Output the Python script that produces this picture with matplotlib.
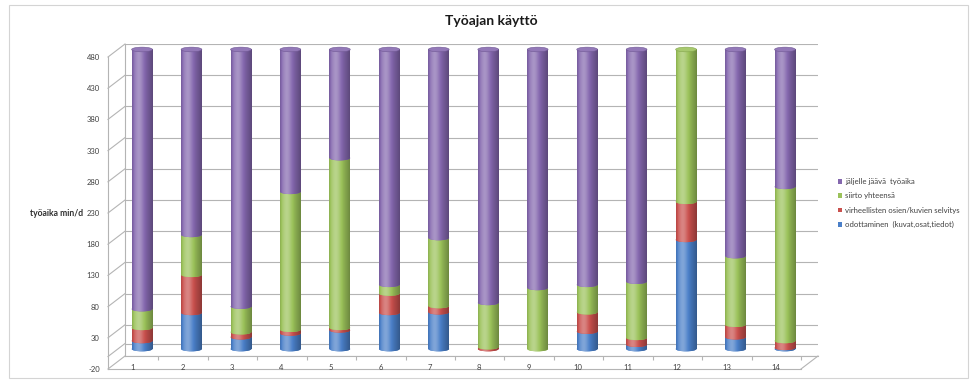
import numpy as np
import matplotlib
matplotlib.use("Agg")
import matplotlib.pyplot as plt
from matplotlib.patches import Ellipse, Rectangle
from matplotlib.lines import Line2D
from matplotlib.colors import to_rgb
import matplotlib.transforms as mtransforms

# ---------------- data ----------------
categories = [str(i) for i in range(1, 15)]
odottaminen = [13, 58, 19, 25, 30, 58, 59, 0, 0, 28, 7, 175, 19, 2]
virheelliset = [21, 61, 8, 6, 4, 31, 10, 3, 0, 31, 11, 61, 20, 11]
siirto = [30, 64, 41, 221, 272, 14, 109, 71, 98, 44, 90, 244, 110, 247]
jaljella = [416, 297, 412, 228, 174, 377, 302, 406, 382, 377, 372, 0, 331, 220]
series_names = ["odottaminen  (kuvat,osat,tiedot)",
                "virheellisten osien/kuvien selvitys",
                "siirto yhteensä",
                "jäljelle jäävä  työaika"]
series_values = [odottaminen, virheelliset, siirto, jaljella]
series_colors = ["#4a7fc8", "#c9504d", "#9bc25a", "#8467ae"]
y_ticks = list(range(-20, 481, 50))
title = "Työajan käyttö"
y_label = "työaika min/d"

# ---------------- figure ----------------
W, H = 973, 381
plt.rcParams['font.family'] = ['Lato', 'DejaVu Sans']
fig = plt.figure(figsize=(W / 100, H / 100), dpi=100)
fig.patch.set_facecolor("white")


def fx(px):
    return px / W


def fy(py):
    return 1 - py / H


grid_c = "#b4b4b4"

# outer chart border
fig.add_artist(Rectangle((fx(9), fy(378)), fx(968) - fx(9), (378 - 5) / H,
                         transform=fig.transFigure, fill=False,
                         edgecolor="#d4d4d4", lw=0.8))

# back wall (gridlines)
axw = fig.add_axes([fx(125), fy(356), fx(818) - fx(125), (356 - 44) / H])
axw.set_ylim(-20, 480)
axw.set_xlim(0.828, 14.84)
axw.patch.set_alpha(0)
for s in ["top", "right"]:
    axw.spines[s].set_visible(False)
for s in ["left", "bottom"]:
    axw.spines[s].set_color(grid_c)
    axw.spines[s].set_linewidth(0.8)
axw.set_yticks(y_ticks)
axw.tick_params(axis="y", length=0, labelleft=False)
axw.yaxis.grid(True, color=grid_c, lw=0.8)
axw.axhline(0, color=grid_c, lw=0.8)
axw.set_xticks(np.arange(1.5, 15, 1))
axw.tick_params(axis="x", length=3, color=grid_c, labelbottom=False, direction="out")
axw.set_zorder(0)

# front axis (labels, front floor edge)
axf = fig.add_axes([fx(108), fy(369), fx(801) - fx(108), (369 - 57) / H])
axf.set_ylim(-20, 480)
axf.set_xlim(0.828, 14.84)
axf.patch.set_alpha(0)
for s in ["top", "right"]:
    axf.spines[s].set_visible(False)
for s in ["left", "bottom"]:
    axf.spines[s].set_color(grid_c)
    axf.spines[s].set_linewidth(0.8)
axf.set_yticks(y_ticks)
axf.set_yticklabels([str(v) for v in y_ticks])
axf.tick_params(axis="y", length=0, pad=6, labelsize=5.5, labelcolor="#404040")
axf.set_xticks([])
axf.set_zorder(1)

# diagonals joining front and back
inv = fig.transFigure.inverted()
x0b, x1b = axw.get_xlim()
for v in y_ticks + [0]:
    pb = inv.transform(axw.transData.transform((x0b, v)))
    pf = inv.transform(axf.transData.transform((x0b, v)))
    fig.add_artist(Line2D([pf[0], pb[0]], [pf[1], pb[1]], transform=fig.transFigure,
                          color=grid_c, lw=0.8))
pb = inv.transform(axw.transData.transform((x1b, -20)))
pf = inv.transform(axf.transData.transform((x1b, -20)))
fig.add_artist(Line2D([pf[0], pb[0]], [pf[1], pb[1]], transform=fig.transFigure,
                      color=grid_c, lw=0.8))

# bars
ymin_b, ymax_b = -20, 500
px_per_unit = 312 / 500
y_bot_px = 349 + 20 * px_per_unit
y_top_px = 349 - 500 * px_per_unit
axb = fig.add_axes([fx(117.3), fy(y_bot_px), (809.7 - 117.3) / W, (y_bot_px - y_top_px) / H])
axb.patch.set_alpha(0)
axb.set_zorder(2)
for s in axb.spines.values():
    s.set_visible(False)

x = np.arange(1, len(categories) + 1)
bw = 0.42
eh = 7.5  # ellipse full height in data units


def cyl_img(color, n=80):
    t = np.linspace(0, 1, n)
    base = np.array(to_rgb(color))
    k = (0.30 * np.exp(-((t - 0.32) / 0.22) ** 2)
         - 0.30 * np.clip((t - 0.45) / 0.55, 0, 1) ** 1.4
         - 0.15 * np.clip((0.12 - t) / 0.12, 0, 1))
    rgb = np.where(k[:, None] > 0, base + (1 - base) * k[:, None], base * (1 + k[:, None]))
    return np.clip(rgb, 0, 1)[None, :, :]


bottoms = np.zeros(len(categories))
handles = []
top_color = [None] * len(categories)
for i, (vals, col) in enumerate(zip(series_values, series_colors)):
    vals = np.array(vals, dtype=float)
    cont = axb.bar(x, vals, width=bw, bottom=bottoms, color=col, linewidth=0, zorder=2 + i)
    handles.append(cont)
    img = cyl_img(col)
    for j, rect in enumerate(cont.patches):
        if vals[j] <= 0:
            continue
        top_color[j] = col
        xc = x[j]
        b = bottoms[j]
        el = Ellipse((xc, b), bw, eh, facecolor=col, edgecolor="none", zorder=2 + i)
        axb.add_patch(el)
        for clip in (rect, el):
            im = axb.imshow(img, extent=[xc - bw / 2, xc + bw / 2, b - eh, b + vals[j]],
                            aspect="auto", zorder=2 + i + 0.01, interpolation="bilinear")
            im.set_clip_path(clip)
    bottoms = bottoms + vals

# top caps
for j in range(len(categories)):
    base = np.array(to_rgb(top_color[j]))
    cap = base + (1 - base) * 0.12
    axb.add_patch(Ellipse((x[j], bottoms[j]), bw, eh, facecolor=cap,
                          edgecolor=base * 0.85, lw=0.4, zorder=10))

axb.set_xlim(0.5, len(categories) + 0.5)
axb.set_ylim(ymin_b, ymax_b)
axb.set_yticks([])
axb.set_xticks(x)
axb.set_xticklabels(categories)
axb.tick_params(axis="x", length=0, pad=2.0, labelsize=5.5, labelcolor="#404040")
offset = mtransforms.ScaledTranslation(-9 / 100, 0, fig.dpi_scale_trans)
for lbl in axb.get_xticklabels():
    lbl.set_transform(lbl.get_transform() + offset)

# texts
fig.text(fx(491), fy(21), title, ha="center", va="center", fontsize=10,
         fontweight="bold", color="#1a1a1a")
fig.text(fx(30), fy(213), y_label, ha="left", va="center", fontsize=6.2,
         fontweight="bold", color="#303030")

# legend
fig.legend(handles[::-1], series_names[::-1], loc="upper left",
           bbox_to_anchor=(fx(838), fy(178)), frameon=False, fontsize=5.6,
           handlelength=0.55, handleheight=0.55, handletextpad=0.4,
           labelspacing=0.95, borderaxespad=0, borderpad=0, labelcolor="#404040")

fig.savefig("out.png", dpi=100, facecolor="white")
